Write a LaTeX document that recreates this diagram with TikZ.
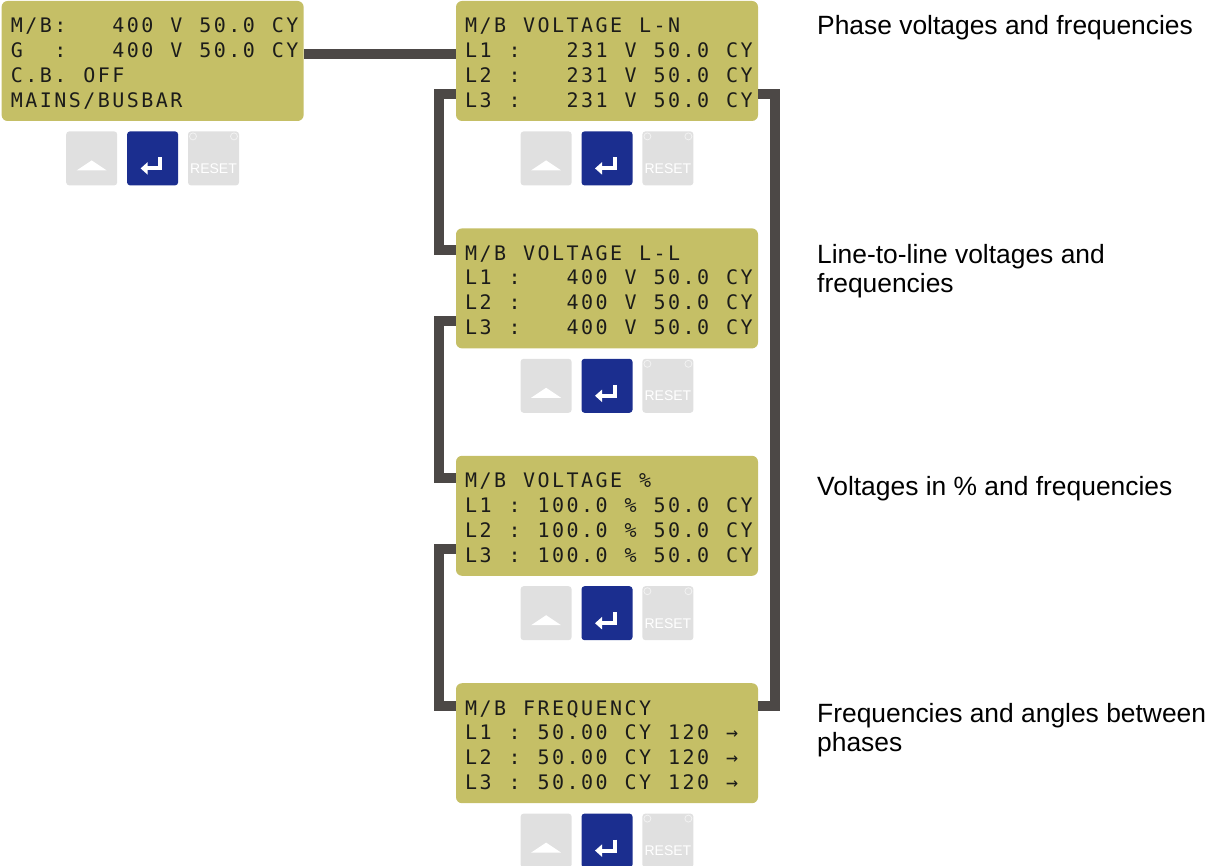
\documentclass[tikz,border=0pt]{standalone}
\usepackage{fontspec}
\setmainfont{Liberation Sans}
\newfontfamily\lcdfont{DejaVu Sans Mono}
\usetikzlibrary{arrows.meta,positioning,calc}
\definecolor{lcd}{HTML}{C5BF66}
\definecolor{lcdink}{HTML}{1C1C1A}
\definecolor{wire}{HTML}{4C4846}
\definecolor{keygrey}{HTML}{E0E0E0}
\definecolor{keyblue}{HTML}{1B2E8F}
% one fixed cell per character, as on the LCD
\newcommand{\lcdtext}[1]{\lcdstep#1\relax}
\newcommand{\lcdstep}[1]{\ifx\relax#1\else\makebox[14.5pt]{#1}\expandafter\lcdstep\fi}

\tikzset{
  lcdbox/.style={rectangle, rounded corners=6pt, fill=lcd, minimum width=302pt, minimum height=120pt, inner sep=0pt},
  lcdline/.style={anchor=base west, inner sep=0pt, text=lcdink, font=\lcdfont\fontsize{20}{24}\selectfont},
  key/.style={rectangle, rounded corners=3pt, fill=keygrey, minimum width=51pt, minimum height=54pt, inner sep=0pt},
  link/.style={draw=wire, line width=10pt},
  note/.style={anchor=base west, inner sep=0pt, align=left, font=\fontsize{26.4}{29}\selectfont},
}

\begin{document}
\begin{tikzpicture}[x=1pt,y=-1pt]
    \useasboundingbox (0,0) rectangle (1207,866);

    % Displays
    \node[lcdbox] (d1) at (607,61) {};
    \node[lcdbox, left=152pt of d1] (d0) {};
    \node[lcdbox, below=107pt of d1] (d2) {};
    \node[lcdbox, below=107pt of d2] (d3) {};
    \node[lcdbox, below=107pt of d3] (d4) {};

    % Display texts
    \node[lcdline] (d0-l1) at ($(d0.north west)+(8,32)$) {\lcdtext{M/B:~~~400~V~50.0~CY}};
    \node[lcdline] (d0-l2) at ($(d0.north west)+(8,56.8)$) {\lcdtext{G~~:~~~400~V~50.0~CY}};
    \node[lcdline] (d0-l3) at ($(d0.north west)+(8,81.6)$) {\lcdtext{C.B.~OFF}};
    \node[lcdline] (d0-l4) at ($(d0.north west)+(8,106.4)$) {\lcdtext{MAINS/BUSBAR}};

    \node[lcdline] (d1-h) at ($(d1.north west)+(8,32)$) {\lcdtext{M/B~VOLTAGE~L-N}};
    \foreach \n in {1,2,3}
        \node[lcdline] (d1-l\n) at ($(d1.north west)+(8,32+24.8*\n)$) {\lcdtext{L\n~:~~~231~V~50.0~CY}};

    \node[lcdline] (d2-h) at ($(d2.north west)+(8,32)$) {\lcdtext{M/B~VOLTAGE~L-L}};
    \foreach \n in {1,2,3}
        \node[lcdline] (d2-l\n) at ($(d2.north west)+(8,32+24.8*\n)$) {\lcdtext{L\n~:~~~400~V~50.0~CY}};

    \node[lcdline] (d3-h) at ($(d3.north west)+(8,32)$) {\lcdtext{M/B~VOLTAGE~\%}};
    \foreach \n in {1,2,3}
        \node[lcdline] (d3-l\n) at ($(d3.north west)+(8,32+24.8*\n)$) {\lcdtext{L\n~:~100.0~\%~50.0~CY}};

    \node[lcdline] (d4-h) at ($(d4.north west)+(8,32)$) {\lcdtext{M/B~FREQUENCY}};
    \foreach \n in {1,2,3}
        \node[lcdline] (d4-l\n) at ($(d4.north west)+(8,32+24.8*\n)$) {\lcdtext{L\n~:~50.00~CY~120~→}};

    % Keys under each display
    \foreach \d in {d0,d1,d2,d3,d4} {
        \node[key, fill=keyblue, below=10pt of \d] (\d-ent) {};
        \node[key, left=9.5pt of \d-ent] (\d-up) {};
        \node[key, right=9.5pt of \d-ent] (\d-rst) {};
        \fill[white] ($(\d-up)+(-15,12)$) -- ($(\d-up)+(0,2)$) -- ($(\d-up)+(15,12)$) -- cycle;
        \draw[white, line width=4pt, -{Triangle[length=7pt,width=12pt]}]
            ($(\d-ent)+(7.5,-1)$) -- ($(\d-ent)+(7.5,10)$) -- ($(\d-ent)+(-12,10)$);
        \draw[white!95!black, line width=0.8pt] ($(\d-rst)+(-20.5,-22)$) circle (3.5pt)
            ($(\d-rst)+(20.5,-22)$) circle (3.5pt);
        \node[font=\fontsize{14}{16}\selectfont, text=white, inner sep=0pt] (\d-rtxt)
            at ($(\d-rst)+(0,10)$) {RESET};
    }

    % Connectors
    \draw[link] ($(d0.north east)+(0,53)$) -- ($(d1.north west)+(0,53)$);
    \draw[link] ($(d1.north west)+(0,93)$) -- ++(-17,0) |- ($(d2.north west)+(0,22)$);
    \draw[link] ($(d2.north west)+(0,93)$) -- ++(-17,0) |- ($(d3.north west)+(0,22)$);
    \draw[link] ($(d3.north west)+(0,93)$) -- ++(-17,0) |- ($(d4.north west)+(0,23)$);
    \draw[link] ($(d1.north east)+(0,93)$) -- ++(17,0) |- ($(d4.north east)+(0,23)$);

    % Notes (multi-line nodes sit on their last baseline)
    \node[note] (n1) at (817,35) {Phase voltages and frequencies};
    \node[note] (n2) at (817,293) {Line-to-line voltages and\\frequencies};
    \node[note] (n3) at (817,495) {Voltages in \% and frequencies};
    \node[note] (n4) at (817,751) {Frequencies and angles between\\phases};
\end{tikzpicture}
\end{document}
